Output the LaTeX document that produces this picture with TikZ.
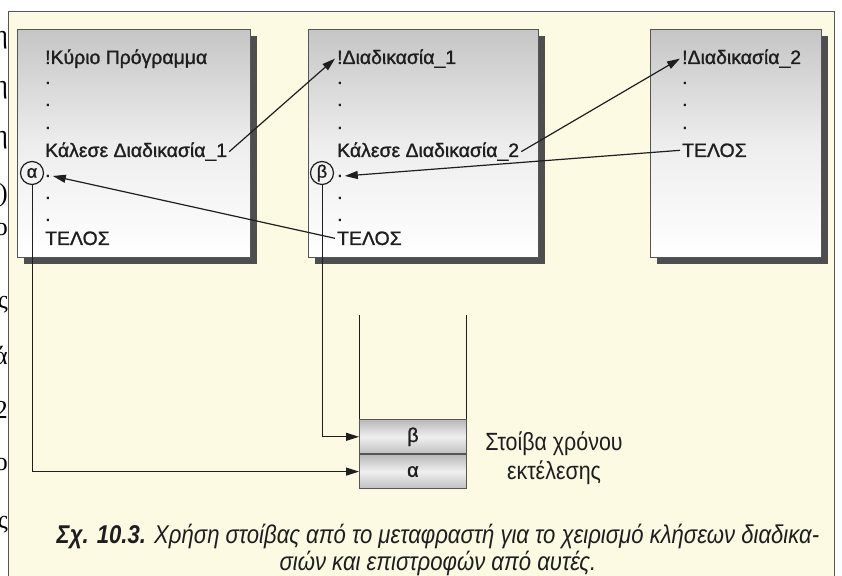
\documentclass[tikz,border=0pt]{standalone}
\usepackage{fontspec}
\setmainfont{Liberation Sans}
\newfontfamily\boxfont[FakeBold=1.2]{Liberation Sans}
\newfontfamily\narrowfont[FakeStretch=0.86]{Liberation Sans}
\newfontfamily\edgefont{Liberation Serif}
\usetikzlibrary{positioning,arrows.meta,shadows}
\definecolor{paper}{RGB}{252,250,227}
\definecolor{shadowgray}{RGB}{78,78,78}
\definecolor{framegray}{RGB}{85,85,85}
\definecolor{inkgray}{RGB}{30,30,30}
\tikzset{
  codebox/.style={draw=framegray, line width=0.8bp, anchor=north west,
    top color=gray!45, bottom color=white, middle color=gray!14,
    minimum height=228bp, drop shadow={shadow xshift=7bp, shadow yshift=-7bp,
    fill=shadowgray, opacity=1}},
  codeline/.style={anchor=base west, inner xsep=2bp, inner ysep=1bp, text=inkgray,
    font=\boxfont\fontsize{19.5}{21}\selectfont},
  retmark/.style={draw=inkgray, circle, line width=1.2bp, inner sep=0pt,
    minimum size=23bp, text=inkgray, font=\boxfont\fontsize{18}{18}\selectfont},
  callarrow/.style={draw=inkgray, line width=1.2bp, -{Triangle[length=13bp,width=8bp]}},
  stackcell/.style={draw=framegray, line width=0.8bp, minimum width=107bp,
    minimum height=34bp, top color=gray!55, bottom color=gray!50, middle color=gray!12,
    text=inkgray, font=\boxfont\fontsize{20}{20}\selectfont},
  stackwall/.style={draw=inkgray, line width=1bp},
  edgeglyph/.style={anchor=east, inner sep=0, font=\edgefont\fontsize{26}{26}\selectfont},
}

\begin{document}
\begin{tikzpicture}[x=1bp, y=-1bp]
\useasboundingbox (0,0) rectangle (842,576);
% page of the book
\fill[paper] (8,11) rectangle (834,576);
\draw[framegray, line width=0.9bp] (8,580) -- (8,11) -- (834,11) -- (834,580);
% letters of the next column, cut by the scan
\begin{scope}
  \clip (0,0) rectangle (7.5,576);
  \node[edgeglyph] (edge1) at (8,40) {η};
  \node[edgeglyph] (edge2) at (8,90) {η};
  \node[edgeglyph] (edge3) at (8,140) {η};
  \node[edgeglyph] (edge4) at (8,195) {)};
  \node[edgeglyph] (edge5) at (8,230) {ο};
  \node[edgeglyph] (edge6) at (8,305) {ς};
  \node[edgeglyph] (edge7) at (8,355) {ά};
  \node[edgeglyph] (edge8) at (8,410) {2};
  \node[edgeglyph] (edge9) at (8,465) {ο};
  \node[edgeglyph] (edge10) at (8,525) {ς};
\end{scope}

% the three programs
\node[codebox, minimum width=233bp] (mainbox) at (17,29) {};
\node[codebox, minimum width=230bp] (sub1box) at (308,29) {};
\node[codebox, minimum width=171bp] (sub2box) at (650,29) {};

\node[codeline] (mainhead) at (43,64) {!Κύριο Πρόγραμμα};
\node[codeline] (maindot1) at (43,84) {.};
\node[codeline] (maindot2) at (43,106) {.};
\node[codeline] (maindot3) at (43,129) {.};
\node[codeline] (maincall) at (43,157) {Κάλεσε Διαδικασία\_1};
\node[retmark] (markA) at (32,173) {α};
\node[codeline] (retdotA) at (43,177) {.};
\node[codeline] (maindot4) at (43,199) {.};
\node[codeline] (maindot5) at (43,221) {.};
\node[codeline] (mainend) at (43,245) {ΤΕΛΟΣ};

\node[codeline] (sub1head) at (335,64) {!Διαδικασία\_1};
\node[codeline] (sub1dot1) at (335,84) {.};
\node[codeline] (sub1dot2) at (335,106) {.};
\node[codeline] (sub1dot3) at (335,129) {.};
\node[codeline] (sub1call) at (335,157) {Κάλεσε Διαδικασία\_2};
\node[retmark] (markB) at (322,173) {β};
\node[codeline] (retdotB) at (335,177) {.};
\node[codeline] (sub1dot4) at (335,199) {.};
\node[codeline] (sub1dot5) at (335,221) {.};
\node[codeline] (sub1end) at (335,245) {ΤΕΛΟΣ};

\node[codeline] (sub2head) at (680,64) {!Διαδικασία\_2};
\node[codeline] (sub2dot1) at (680,84) {.};
\node[codeline] (sub2dot2) at (680,106) {.};
\node[codeline] (sub2dot3) at (680,129) {.};
\node[codeline] (sub2end) at (680,157) {ΤΕΛΟΣ};

% calls and returns
\draw[callarrow] (maincall.east) -- (sub1head.west);
\draw[callarrow] (sub1call.east) -- (sub2head.west);
\draw[callarrow] (sub2end.west) -- (retdotB.east);
\draw[callarrow] (sub1end.west) -- (retdotA.east);

% run-time stack
\node[stackcell, anchor=south west] (cellA) at (359,489) {α};
\node[stackcell, above=0bp of cellA] (cellB) {β};
\coordinate (stacktop) at (0,315);
\draw[stackwall] (cellB.north west) -- (cellB.north west |- stacktop);
\draw[stackwall] (cellB.north east) -- (cellB.north east |- stacktop);
\node[align=center, text=inkgray, font=\narrowfont\fontsize{25}{30}\selectfont,
  right=15bp of cellA.north east, yshift=-4bp] (stackname) {Στοίβα χρόνου\\εκτέλεσης};

\draw[callarrow, line width=1bp] (markA.south) |- (cellA.west);
\draw[callarrow, line width=1bp] (markB.south) |- (cellB.west);

% caption
\node[align=center, text=inkgray, font=\narrowfont\itshape\fontsize{25.8}{27}\selectfont]
  (caption) at (438,550)
  {\textbf{Σχ. 10.3.} Χρήση στοίβας από το μεταφραστή για το χειρισμό κλήσεων διαδικα-\\σιών και επιστροφών από αυτές.};
\end{tikzpicture}
\end{document}
